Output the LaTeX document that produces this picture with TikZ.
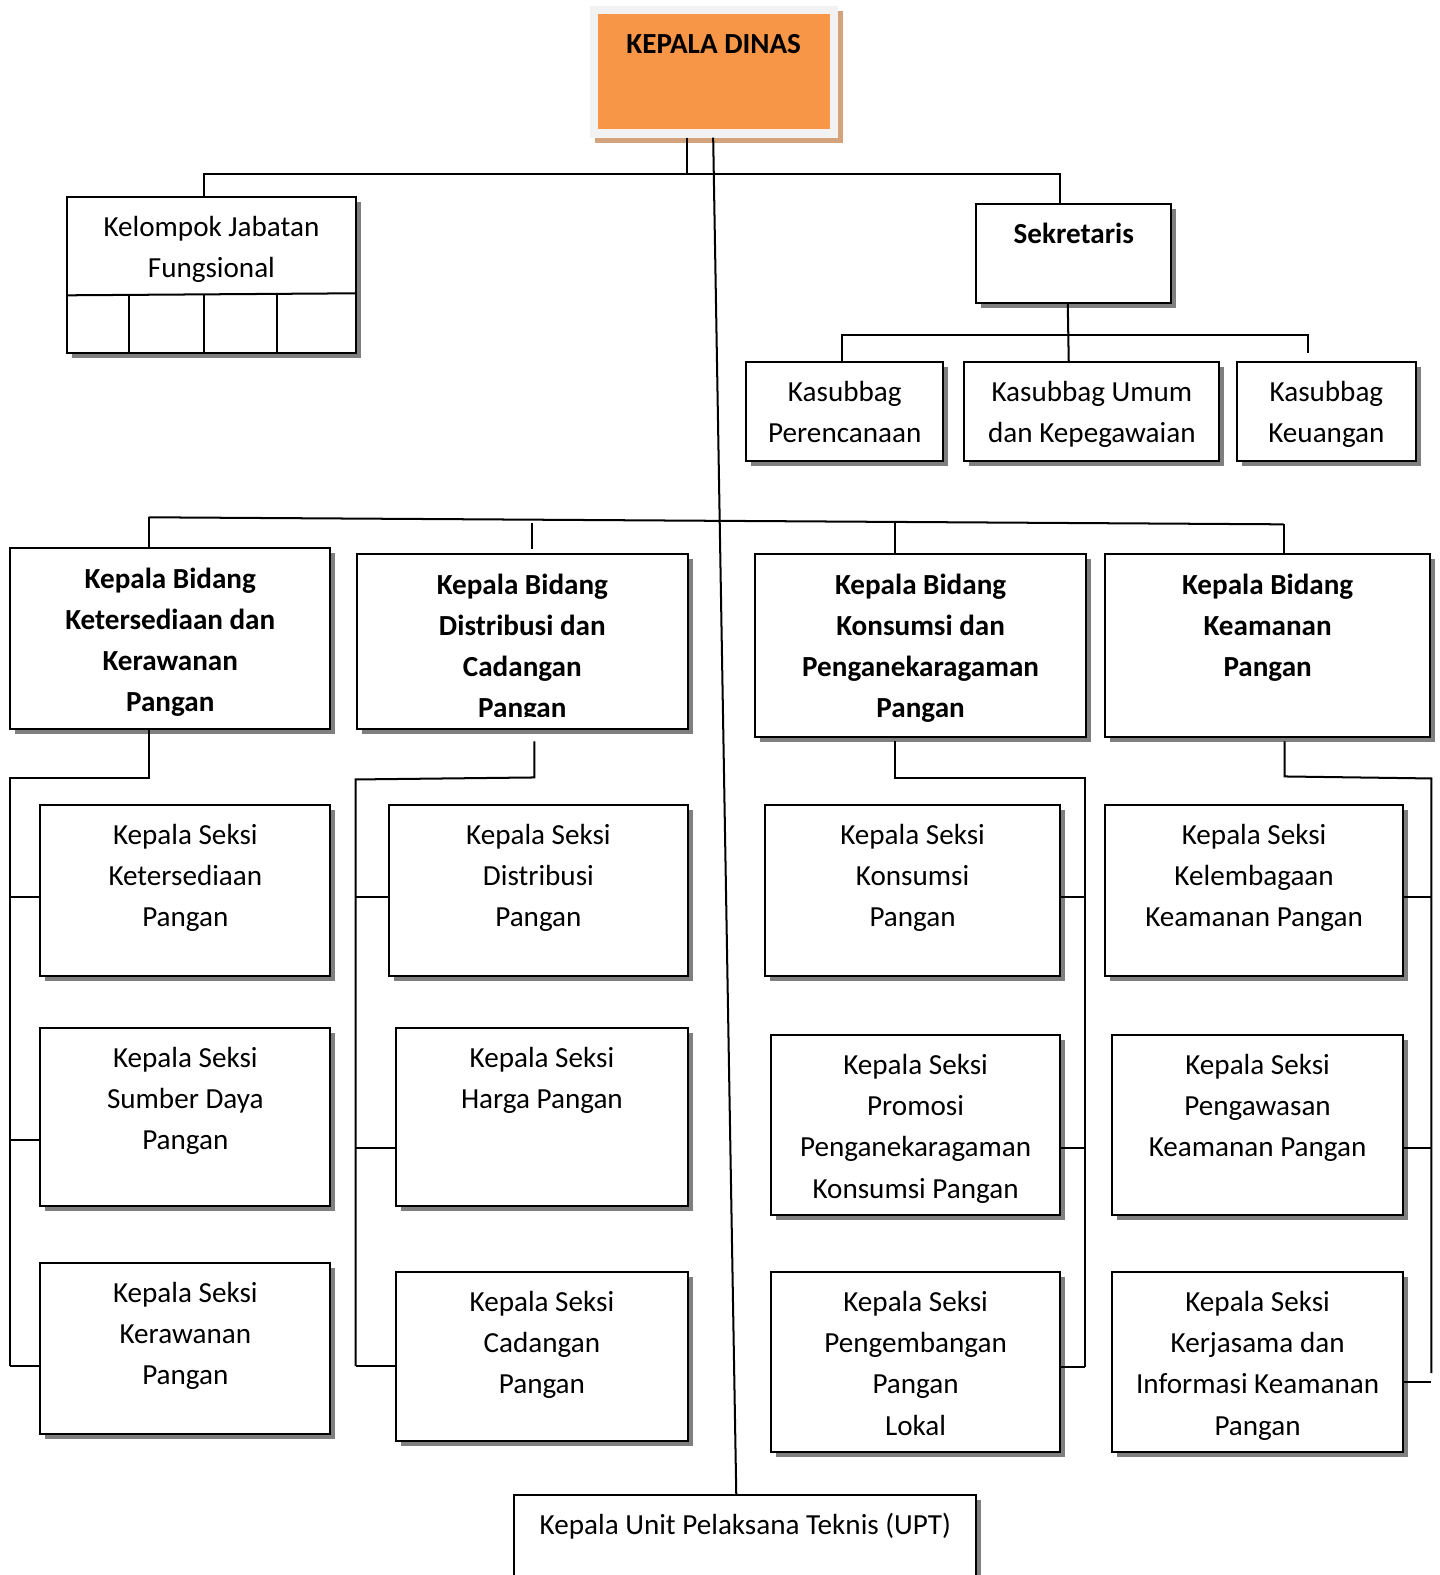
\documentclass[tikz,border=0pt]{standalone}
\usepackage{fontspec}
\setmainfont{Carlito}
\usetikzlibrary{shadows}
\definecolor{orangeKD}{HTML}{F79646}
\definecolor{frameKD}{HTML}{F2F2F2}
\definecolor{tanKD}{HTML}{D3A37E}
\definecolor{shadowgray}{HTML}{7F7F7F}
\tikzset{
  boxs/.style={draw=black, line width=1pt, fill=white, inner sep=0pt, outer sep=0pt,
    drop shadow={shadow xshift=2.5pt, shadow yshift=-2.5pt, opacity=1, fill=shadowgray}},
  txt/.style={align=center, inner sep=0pt, outer sep=0pt, text=black,
    font=\fontsize{14.5}{20.5}\selectfont},
  bold/.style={font=\fontsize{14.5}{20.5}\selectfont\bfseries},
  conn/.style={draw=black, line width=1pt},
}
\newcommand\obox[8]{%
  \node[#6, minimum width={(#4-#2)*0.5pt}, minimum height={(#5-#3)*0.5pt}, anchor=north west] (#1) at (#2,#3) {};
  \node[txt, #7, anchor=north] (#1-t) at ([yshift=-5.5pt]#1.north) {\strut #8};}
\begin{document}
\begin{tikzpicture}[x=0.5pt, y=-0.5pt]
\useasboundingbox (0,0) rectangle (1433,1568);
\clip (0,0) rectangle (1433,1568);
% Kepala Dinas
\node[fill=frameKD, inner sep=0pt, outer sep=0pt, minimum width={(834-587)*0.5pt}, minimum height={(137-6)*0.5pt}, anchor=north west,
  drop shadow={shadow xshift=2.5pt, shadow yshift=-2.5pt, opacity=1, fill=tanKD}] (kd) at (587,6) {};
\obox{kdin}{595}{14}{826}{128}{fill=orangeKD, inner sep=0pt, outer sep=0pt}{bold}{KEPALA DINAS}
% Kelompok Jabatan Fungsional
\obox{kfj}{67}{196}{354}{351}{boxs}{}{Kelompok Jabatan\\Fungsional}
\draw[conn] (kfj.west |- 0,294) -- (kfj.east |- 0,292);
\coordinate (d1) at (128.5,294);
\coordinate (d2) at (203,293.5);
\coordinate (d3) at (276,293);
\draw[conn] (d1) -- (kfj.south -| d1) (d2) -- (kfj.south -| d2) (d3) -- (kfj.south -| d3);
% Sekretaris
\obox{sek}{972}{203}{1166}{302}{boxs}{bold}{Sekretaris}
\obox{ks1}{743}{360}{939}{459}{boxs}{}{Kasubbag\\Perencanaan}
\obox{ks2}{960}{360}{1214}{459}{boxs}{}{Kasubbag Umum\\dan Kepegawaian}
\obox{ks3}{1231}{360}{1410}{459}{boxs}{}{Kasubbag\\Keuangan}
% Bidang
\obox{b1}{10}{546}{329}{726}{boxs}{bold}{Kepala Bidang\\Ketersediaan dan\\Kerawanan\\Pangan}
\obox{b2}{355}{552}{685}{726}{boxs}{bold}{}
\begin{scope}
\clip (355,552) rectangle (685,713);
\node[txt, bold, anchor=north] (b2-tx) at ([yshift=-5.5pt]b2.north) {\strut Kepala Bidang\\Distribusi dan\\Cadangan\\Pangan};
\end{scope}
\obox{b3}{752}{552}{1081}{734}{boxs}{bold}{Kepala Bidang\\Konsumsi dan\\Penganekaragaman\\Pangan}
\obox{b4}{1100}{552}{1424}{734}{boxs}{bold}{Kepala Bidang\\Keamanan\\Pangan}
% Seksi column 1
\obox{s11}{40}{801}{329}{972}{boxs}{}{Kepala Seksi\\Ketersediaan\\Pangan}
\obox{s12}{40}{1023}{329}{1201}{boxs}{}{Kepala Seksi\\Sumber Daya\\Pangan}
\obox{s13}{40}{1257}{329}{1428}{boxs}{}{Kepala Seksi\\Kerawanan\\Pangan}
% column 2
\obox{s21}{387}{801}{685}{972}{boxs}{}{Kepala Seksi\\Distribusi\\Pangan}
\obox{s22}{394}{1023}{685}{1201}{boxs}{}{Kepala Seksi\\Harga Pangan}
\obox{s23}{394}{1266}{685}{1435}{boxs}{}{Kepala Seksi\\Cadangan\\Pangan}
% column 3
\obox{s31}{762}{801}{1055}{972}{boxs}{}{Kepala Seksi\\Konsumsi\\Pangan}
\obox{s32}{768}{1030}{1055}{1210}{boxs}{}{Kepala Seksi\\Promosi\\Penganekaragaman\\Konsumsi Pangan}
\obox{s33}{768}{1266}{1055}{1446}{boxs}{}{Kepala Seksi\\Pengembangan\\Pangan\\Lokal}
% column 4
\obox{s41}{1100}{801}{1397}{972}{boxs}{}{Kepala Seksi\\Kelembagaan\\Keamanan Pangan}
\obox{s42}{1107}{1030}{1397}{1210}{boxs}{}{Kepala Seksi\\Pengawasan\\Keamanan Pangan}
\obox{s43}{1107}{1266}{1397}{1446}{boxs}{}{Kepala Seksi\\Kerjasama dan\\Informasi Keamanan\\Pangan}
% UPT
\obox{upt}{512}{1488}{972}{1610}{boxs}{}{Kepala Unit Pelaksana Teknis (UPT)}
% ---- connectors ----
\draw[conn] (kd.south -| 684,0) -- (684,173);
\draw[conn] (kfj.north -| 203,0) -- (203,173) -- (1055,173) -- (sek.north -| 1055,0);
\draw[conn] (kd.south -| 710,0) -- (upt.north -| 733,0);
% sekretaris
\draw[conn] (sek.south -| 1063,0) -- (ks2.north -| 1064,0);
\coordinate (kt3) at (1302,351);
\draw[conn] (ks1.north -| 838,0) -- (838,334) -- (1302,334) -- (kt3);
% bidang bus
\coordinate (t2) at (530,547);
\draw[conn] (148,515) -- (1278,522);
\draw[conn] (148,515) -- (b1.north -| 148,0);
\draw[conn] (530,521) -- (t2);
\draw[conn] (891,521) -- (b3.north -| 891,0);
\draw[conn] (1278,522) -- (b4.north -| 1278,0);
% column 1
\draw[conn] (b1.south -| 148,0) -- (148,775) -- (10,775) -- (10,1360);
\draw[conn] (10,893) -- (s11.west |- 0,893);
\draw[conn] (10,1135) -- (s12.west |- 0,1135);
\draw[conn] (10,1360) -- (s13.west |- 0,1360);
% column 2
\draw[conn] (532,738) -- (532,774) -- (354,776) -- (354,1360);
\draw[conn] (354,893) -- (s21.west |- 0,893);
\draw[conn] (354,1143) -- (s22.west |- 0,1143);
\draw[conn] (354,1360) -- (s23.west |- 0,1360);
% column 3
\draw[conn] (891,738) -- (891,775) -- (1080,775) -- (1080,1361);
\draw[conn] (s31.east |- 0,893) -- (1080,893);
\draw[conn] (s32.east |- 0,1143) -- (1080,1143);
\draw[conn] (s33.east |- 0,1361) -- (1080,1361);
% column 4
\draw[conn] (1279,738) -- (1279,773) -- (1425,775) -- (1425,1367);
\draw[conn] (s41.east |- 0,893) -- (1425,893);
\draw[conn] (s42.east |- 0,1143) -- (1425,1143);
\draw[conn] (s43.east |- 0,1376) -- (1425,1376);
\end{tikzpicture}
\end{document}
